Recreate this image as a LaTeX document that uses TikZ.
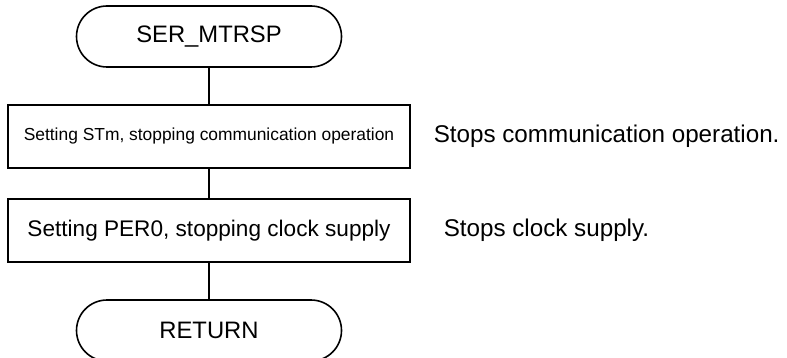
\documentclass[tikz,border=0pt]{standalone}
\usepackage{fontspec}
\setmainfont{Liberation Sans}
\usepackage{tikz}
\usetikzlibrary{calc}

\begin{document}
\begin{tikzpicture}[x=0.5pt, y=-0.5pt, line width=0.8pt,
  terminal/.style={draw, rectangle, rounded corners=15.25pt, minimum width=132.5pt, minimum height=30.5pt, inner sep=0pt, font=\fontsize{11.9}{14}\selectfont},
  procbox/.style={draw, rectangle, minimum width=201pt, minimum height=31.5pt, inner sep=0pt},
  note/.style={anchor=west, inner sep=0pt, font=\fontsize{12.1}{14}\selectfont}]
\useasboundingbox (0,0) rectangle (787,358);
\node[terminal] (start) at (209,36.5) {SER\_MTRSP};
\node[procbox, font=\fontsize{8.7}{10}\selectfont] (stm) at (209,136.5) {Setting STm, stopping communication operation};
\node[procbox, font=\fontsize{11.3}{14}\selectfont] (per) at (209,230.5) {Setting PER0, stopping clock supply};
\node[terminal] (ret) at (209,330.5) {RETURN};
\draw (start) -- (stm);
\draw (stm) -- (per);
\draw (per) -- (ret);
\node[note] (stmnote) at (433,136) {Stops communication operation.};
\node[note] (pernote) at (443,230) {Stops clock supply.};
\end{tikzpicture}
\end{document}
